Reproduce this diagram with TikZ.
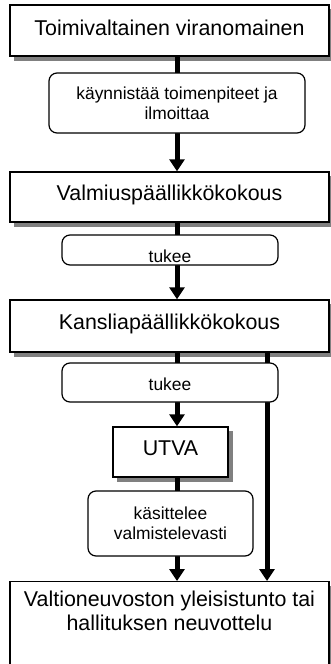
\documentclass[tikz,border=0pt]{standalone}
\usepackage{fontspec}
\setmainfont{Liberation Sans}
\usetikzlibrary{arrows.meta,backgrounds}
\begin{document}
\begin{tikzpicture}[x=1pt,y=-1pt,
  bigbox/.style={draw,line width=1.4pt,fill=white,minimum width=319pt,align=center,
    inner sep=0pt,font=\fontsize{21.4}{24}\selectfont},
  rbox/.style={draw,line width=1.2pt,fill=white,rounded corners=8pt,align=center,
    inner sep=0pt,font=\fontsize{17.4}{20}\selectfont},
  shadowfill/.style={fill=black!50},
  arr/.style={line width=5pt,-{Triangle[width=15pt,length=12pt]}}]
\useasboundingbox (0,0) rectangle (330,664);
\clip (0,0) rectangle (330,664);
\coordinate (colA) at (177,0);
\coordinate (colB) at (267,0);
% main boxes
\node[bigbox,minimum height=51pt,text height=17pt,text depth=8pt] (b1) at (169.5,30.5) {Toimivaltainen viranomainen};
\node[bigbox,minimum height=50pt,text height=16pt,text depth=10pt] (b2) at (169.5,197) {Valmiuspäällikkökokous};
\node[bigbox,minimum height=52pt,text height=16pt,text depth=10pt] (b3) at (169.5,326) {Kansliapäällikkökokous};
\node[bigbox,minimum width=115pt,minimum height=50pt,text height=15pt,text depth=9pt] (u) at (170.5,452) {UTVA};
\node[bigbox,minimum height=90pt,anchor=north] (b5) at (169.5,581) {Valtioneuvoston yleisistunto tai\\hallituksen neuvottelu\\\strut};
% shadows
\begin{scope}[on background layer]
  \foreach \n in {b1,b2,b3,u,b5}
    \fill[shadowfill] ([xshift=4.5pt,yshift=-4.5pt]\n.south west) rectangle ([xshift=4.5pt,yshift=-4.5pt]\n.north east);
\end{scope}
% connectors
\draw[arr] (b1.south -| colA) -- (b2.north -| colA);
\draw[arr] (b2.south -| colA) -- (b3.north -| colA);
\draw[arr] (b3.south -| colA) -- (u.north -| colA);
\draw[arr] (u.south -| colA) -- (b5.north -| colA);
\draw[arr] (b3.south -| colB) -- (b5.north -| colB);
% rounded label boxes
\node[rbox,minimum width=256pt,minimum height=60pt] (r1) at (177,103) {käynnistää toimenpiteet ja\\ilmoittaa};
\node[rbox,minimum width=216pt,minimum height=30pt,text height=24pt,text depth=0pt] (r2) at (170,250) {tukee};
\node[rbox,minimum width=216pt,minimum height=39pt,text height=15pt,text depth=0pt] (r3) at (170,382.5) {tukee};
\node[rbox,minimum width=165pt,minimum height=65pt] (r4) at (170.5,523.5) {käsittelee\\valmistelevasti};
\end{tikzpicture}
\end{document}
